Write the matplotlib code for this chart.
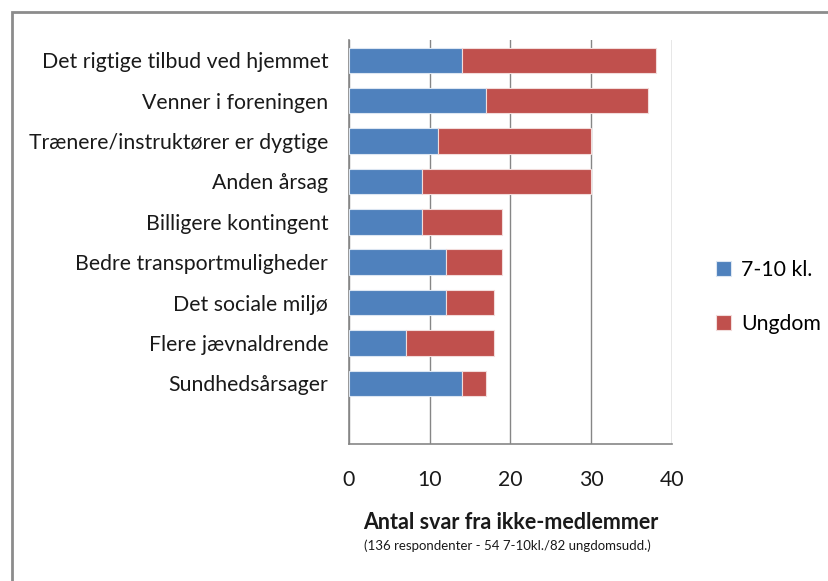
import matplotlib
matplotlib.use('Agg')
import matplotlib.pyplot as plt
from matplotlib.patches import Rectangle

# Data
categories = [
    "Det rigtige tilbud ved hjemmet",
    "Venner i foreningen",
    "Trænere/instruktører er dygtige",
    "Anden årsag",
    "Billigere kontingent",
    "Bedre transportmuligheder",
    "Det sociale miljø",
    "Flere jævnaldrende",
    "Sundhedsårsager",
]
kl_7_10 = [14, 17, 11, 9, 9, 12, 12, 7, 14]
ungdom = [24, 20, 19, 21, 10, 7, 6, 11, 3]
xticks = [0, 10, 20, 30, 40]

BLUE = "#4F81BD"
RED = "#C0504D"
GRID = "#868686"

plt.rcParams['font.family'] = ['Lato', 'DejaVu Sans']

fig = plt.figure(figsize=(8.29, 5.81), dpi=100)
ax = fig.add_axes([0.421, 0.236, 0.3895, 0.695])

# Outer frame like the slide border
fig.patches.append(Rectangle((12 / 829, -0.01), 1.0, 1 - 12 / 581 + 0.01,
                             transform=fig.transFigure, fill=False,
                             edgecolor="#8c8c8c", linewidth=2.0))

y = list(range(len(categories)))
ax.barh(y, kl_7_10, height=0.63, color=BLUE, edgecolor="#dce6f2",
        linewidth=0.8, label="7-10 kl.", zorder=3)
ax.barh(y, ungdom, left=kl_7_10, height=0.63, color=RED, edgecolor="#f2dcdb",
        linewidth=0.8, label="Ungdom", zorder=3)

ax.set_ylim(len(categories) + 0.5, -0.5)
ax.set_xlim(0, 40)
ax.set_xticks(xticks)
ax.set_yticks(y)
ax.set_yticklabels(categories, fontsize=15.3, color="#1a1a1a")
ax.tick_params(axis='x', labelsize=15.3, colors="#1a1a1a", length=0, pad=19)
ax.tick_params(axis='y', length=0, pad=15)
ax.grid(axis='x', color=GRID, linewidth=1.0, zorder=0)

for side in ["top", "right"]:
    ax.spines[side].set_visible(False)
ax.spines["left"].set_color(GRID)
ax.spines["bottom"].set_color(GRID)
ax.spines["left"].set_linewidth(1.2)
ax.spines["bottom"].set_linewidth(1.2)

ax.set_xlabel("Antal svar fra ikke-medlemmer", fontsize=15.5, fontweight="bold",
              color="#1a1a1a", labelpad=16)
fig.text(0.6125, 1 - 546 / 581, "(136 respondenter - 54 7-10kl./82 ungdomsudd.)",
         ha="center", va="center", fontsize=9.5, color="#1a1a1a")

leg = ax.legend(loc="center left", bbox_to_anchor=(1.077, 0.364), frameon=False,
                fontsize=15.3, handlelength=0.7, handleheight=0.7,
                labelspacing=1.6, handletextpad=0.5)

fig.savefig("out.png", dpi=100)
